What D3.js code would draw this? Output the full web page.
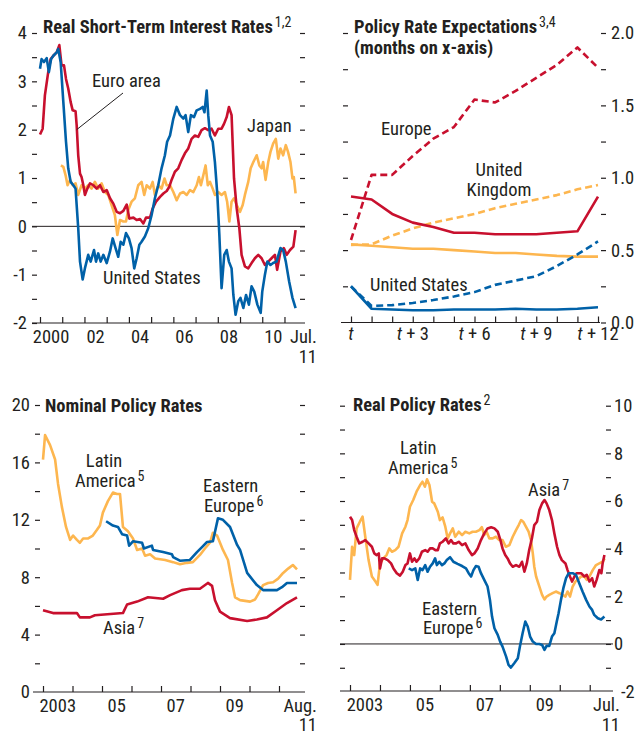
<!DOCTYPE html>
<html>
<head>
<meta charset="utf-8">
<script src="https://cdn.jsdelivr.net/npm/d3@7"></script>
<style>
  body { margin: 0; background: #fff; }
  svg text { font-family: Roboto, 'Open Sans', sans-serif; font-stretch: condensed; fill: #231f20; }
</style>
</head>
<body>
<div id="chart"></div>
<script>
const w = 638;
const h = 732;

const red = '#c8102e';
const blue = '#0061a8';
const yellow = '#fdb64f';
const ink = '#231f20';
const fs = 18.5;

// ---- panel 1: real short-term interest rates, [year, percent]
const euroReal = [[2000.00,1.90],[2000.12,2.02],[2000.22,2.71],[2000.37,3.19],[2000.48,3.46],[2000.60,3.53],[2000.75,3.60],[2000.87,3.75],[2000.97,3.33],[2001.08,3.33],[2001.17,3.05],[2001.27,2.85],[2001.38,2.57],[2001.47,2.40],[2001.60,2.38],[2001.65,2.09],[2001.72,1.47],[2001.80,1.09],[2001.87,1.02],[2001.95,0.85],[2002.02,0.65],[2002.13,0.78],[2002.25,0.89],[2002.40,0.85],[2002.55,0.78],[2002.70,0.85],[2002.85,0.71],[2003.00,0.75],[2003.15,0.58],[2003.30,0.47],[2003.45,0.30],[2003.60,0.27],[2003.75,0.32],[2003.90,0.45],[2004.02,0.16],[2004.20,0.18],[2004.35,0.13],[2004.50,0.15],[2004.65,0.06],[2004.77,0.18],[2004.95,0.18],[2005.07,0.37],[2005.22,0.51],[2005.40,0.61],[2005.55,0.68],[2005.70,0.73],[2005.82,0.82],[2005.92,0.96],[2006.07,1.13],[2006.22,1.20],[2006.37,1.37],[2006.52,1.51],[2006.67,1.61],[2006.82,1.81],[2006.97,1.88],[2007.12,1.85],[2007.27,1.99],[2007.42,2.03],[2007.57,1.99],[2007.72,2.02],[2007.87,1.88],[2008.02,2.02],[2008.17,2.02],[2008.28,2.12],[2008.40,2.26],[2008.50,2.47],[2008.62,2.30],[2008.73,0.99],[2008.85,0.37],[2008.97,-0.04],[2009.07,-0.59],[2009.22,-0.83],[2009.37,-0.87],[2009.52,-0.76],[2009.67,-0.66],[2009.82,-0.59],[2009.97,-0.66],[2010.12,-0.80],[2010.27,-0.73],[2010.42,-0.66],[2010.57,-0.59],[2010.67,-0.90],[2010.82,-0.52],[2010.97,-0.45],[2011.10,-0.59],[2011.25,-0.49],[2011.40,-0.42],[2011.50,-0.08]];
const usReal = [[2000.00,3.26],[2000.07,3.46],[2000.18,3.40],[2000.30,3.48],[2000.40,3.19],[2000.50,3.46],[2000.60,3.53],[2000.75,3.60],[2000.82,3.67],[2000.93,3.40],[2001.05,2.57],[2001.17,1.75],[2001.27,1.20],[2001.38,0.92],[2001.50,0.85],[2001.60,0.78],[2001.72,-0.04],[2001.80,-0.73],[2001.92,-1.10],[2002.02,-0.87],[2002.17,-0.59],[2002.28,-0.73],[2002.43,-0.49],[2002.52,-0.73],[2002.62,-0.56],[2002.73,-0.73],[2002.85,-0.59],[2003.00,-0.76],[2003.15,-0.52],[2003.27,-0.25],[2003.40,-0.45],[2003.52,-0.63],[2003.63,-0.32],[2003.75,-0.38],[2003.87,-0.14],[2004.00,-0.25],[2004.12,-0.45],[2004.24,-0.87],[2004.35,-0.66],[2004.47,-0.38],[2004.57,-0.32],[2004.72,-0.21],[2004.87,-0.04],[2005.02,0.23],[2005.17,0.58],[2005.32,0.85],[2005.47,1.20],[2005.62,1.47],[2005.72,1.75],[2005.85,1.88],[2006.00,2.23],[2006.15,2.47],[2006.30,2.30],[2006.45,2.23],[2006.55,2.30],[2006.67,1.95],[2006.79,2.30],[2006.93,2.26],[2007.05,2.40],[2007.20,2.43],[2007.32,2.47],[2007.40,2.36],[2007.50,2.81],[2007.57,2.30],[2007.65,1.88],[2007.77,1.75],[2007.87,1.33],[2007.98,0.65],[2008.07,-0.18],[2008.17,-1.28],[2008.29,-0.59],[2008.40,-0.49],[2008.50,-0.73],[2008.62,-0.87],[2008.70,-1.42],[2008.80,-1.83],[2008.92,-1.55],[2009.02,-1.48],[2009.15,-1.69],[2009.27,-1.42],[2009.40,-1.62],[2009.52,-1.24],[2009.64,-1.35],[2009.78,-1.62],[2009.93,-1.79],[2010.00,-1.35],[2010.12,-1.00],[2010.23,-0.73],[2010.37,-0.80],[2010.49,-0.76],[2010.64,-0.73],[2010.75,-0.56],[2010.82,-0.45],[2010.94,-0.49],[2011.06,-0.73],[2011.21,-1.14],[2011.36,-1.48],[2011.50,-1.69]];
const japanReal = [[2000.94,1.26],[2001.05,1.23],[2001.15,1.06],[2001.24,0.85],[2001.35,0.96],[2001.47,0.85],[2001.60,0.89],[2001.72,0.65],[2001.87,0.85],[2002.02,0.78],[2002.17,0.85],[2002.32,0.78],[2002.47,0.92],[2002.62,0.78],[2002.77,0.89],[2002.92,0.71],[2003.07,0.65],[2003.22,0.44],[2003.37,0.23],[2003.48,-0.18],[2003.60,0.13],[2003.75,0.10],[2003.87,0.10],[2003.97,0.34],[2004.12,0.51],[2004.27,0.58],[2004.42,0.85],[2004.57,0.92],[2004.69,0.65],[2004.80,0.85],[2004.95,0.78],[2005.07,0.92],[2005.17,0.65],[2005.32,0.85],[2005.47,0.78],[2005.60,0.99],[2005.70,0.85],[2005.85,0.85],[2006.00,0.71],[2006.15,0.54],[2006.30,0.68],[2006.45,0.71],[2006.60,0.65],[2006.75,0.75],[2006.90,0.71],[2007.05,0.85],[2007.15,1.02],[2007.24,0.85],[2007.35,1.06],[2007.45,1.26],[2007.55,0.85],[2007.65,0.92],[2007.77,0.78],[2007.87,0.65],[2008.02,0.71],[2008.17,0.65],[2008.32,0.71],[2008.42,0.51],[2008.52,0.10],[2008.62,0.51],[2008.73,0.58],[2008.85,0.44],[2009.00,0.30],[2009.12,0.44],[2009.22,0.65],[2009.37,0.92],[2009.48,1.20],[2009.60,1.33],[2009.75,1.47],[2009.87,1.26],[2009.97,1.20],[2010.04,1.33],[2010.15,0.96],[2010.27,1.33],[2010.37,1.54],[2010.49,1.71],[2010.61,1.81],[2010.72,1.40],[2010.82,1.61],[2010.94,1.47],[2011.06,1.68],[2011.16,1.54],[2011.27,1.33],[2011.36,0.99],[2011.42,1.02],[2011.50,0.68]];
const p1Ticks = d3.range(2000, 2012);
const p1Labels = [[2000, '2000'], [2002, '02'], [2004, '04'], [2006, '06'], [2008, '08'], [2010, '10']];

// ---- panel 2: policy rate expectations, months ahead
const months = [0, 1, 2, 3, 4, 5, 6, 7, 8, 9, 10, 11, 12];
const europeNow = [0.87, 0.85, 0.75, 0.69, 0.66, 0.62, 0.62, 0.61, 0.61, 0.61, 0.62, 0.63, 0.87];
const europeFwd = [0.57, 1.02, 1.02, 1.15, 1.27, 1.35, 1.54, 1.52, 1.60, 1.69, 1.78, 1.90, 1.76];
const ukNow = [0.54, 0.53, 0.52, 0.51, 0.51, 0.50, 0.49, 0.48, 0.48, 0.47, 0.46, 0.455, 0.455];
const ukFwd = [0.535, 0.54, 0.60, 0.65, 0.69, 0.72, 0.75, 0.79, 0.82, 0.85, 0.88, 0.92, 0.95];
const usNow = [0.25, 0.095, 0.09, 0.085, 0.085, 0.09, 0.09, 0.09, 0.095, 0.09, 0.09, 0.095, 0.105];
const usFwd = [0.25, 0.115, 0.12, 0.135, 0.155, 0.18, 0.21, 0.26, 0.29, 0.32, 0.39, 0.47, 0.56];
const p2Labels = [[0, ''], [3, '3'], [6, '6'], [9, '9'], [12, '12']];

// ---- panel 3: nominal policy rates
const latinNominal = [[2003.00,16.2],[2003.07,17.9],[2003.24,17.2],[2003.41,16.2],[2003.51,14.5],[2003.64,12.9],[2003.78,11.5],[2003.92,10.6],[2004.02,10.9],[2004.15,10.6],[2004.25,10.4],[2004.36,10.7],[2004.53,10.7],[2004.69,10.9],[2004.83,11.3],[2004.93,11.6],[2005.03,12.5],[2005.20,13.3],[2005.37,13.9],[2005.51,13.8],[2005.61,13.8],[2005.71,11.5],[2005.88,11.2],[2006.05,10.7],[2006.19,9.9],[2006.36,10.0],[2006.46,9.5],[2006.63,9.6],[2006.80,9.3],[2007.14,9.2],[2007.41,9.05],[2007.64,8.9],[2007.88,9.0],[2008.08,9.05],[2008.32,9.55],[2008.49,10.0],[2008.66,10.4],[2008.76,11.1],[2008.90,10.9],[2009.10,9.9],[2009.27,9.2],[2009.41,7.6],[2009.51,6.6],[2009.68,6.4],[2009.85,6.35],[2010.02,6.3],[2010.19,6.45],[2010.29,6.8],[2010.46,7.45],[2010.63,7.6],[2010.80,7.65],[2010.97,7.9],[2011.14,8.3],[2011.31,8.6],[2011.47,8.85],[2011.61,8.55]];
const easternNominal = [[2005.14,11.9],[2005.37,11.6],[2005.54,11.5],[2005.68,11.0],[2005.85,10.9],[2005.92,10.2],[2006.05,10.5],[2006.36,10.4],[2006.42,10.0],[2006.69,10.2],[2006.73,9.9],[2007.07,9.75],[2007.37,9.6],[2007.41,9.4],[2007.64,9.15],[2007.98,9.2],[2008.22,9.75],[2008.39,10.1],[2008.56,10.45],[2008.76,10.5],[2008.93,12.1],[2009.10,12.0],[2009.34,11.5],[2009.58,10.25],[2009.68,9.9],[2009.92,8.3],[2010.25,7.45],[2010.46,7.1],[2010.93,7.1],[2011.10,7.3],[2011.27,7.6],[2011.61,7.6]];
const asiaNominal = [[2003.00,5.7],[2003.34,5.5],[2004.15,5.5],[2004.25,5.2],[2004.59,5.2],[2004.76,5.35],[2005.71,5.5],[2005.85,6.1],[2006.19,6.3],[2006.56,6.6],[2007.07,6.5],[2007.31,6.75],[2007.71,7.1],[2007.98,7.2],[2008.32,7.2],[2008.59,7.6],[2008.73,7.4],[2008.83,6.4],[2009.00,5.6],[2009.34,5.15],[2009.92,4.95],[2010.25,5.05],[2010.59,5.2],[2010.93,5.7],[2011.27,6.2],[2011.61,6.6]];

// ---- panel 4: real policy rates
const latinReal = [[2003.00,2.69],[2003.07,4.08],[2003.14,3.73],[2003.22,4.85],[2003.33,5.13],[2003.42,5.34],[2003.51,4.50],[2003.62,3.52],[2003.73,2.83],[2003.85,2.62],[2003.92,2.48],[2004.00,3.38],[2004.11,3.59],[2004.22,3.73],[2004.31,4.01],[2004.40,3.87],[2004.51,3.94],[2004.62,4.08],[2004.74,4.64],[2004.85,4.92],[2004.92,5.20],[2005.00,5.76],[2005.11,6.04],[2005.22,6.39],[2005.34,6.67],[2005.42,6.81],[2005.50,6.60],[2005.57,6.91],[2005.65,6.67],[2005.74,5.97],[2005.81,5.90],[2005.93,5.55],[2006.00,5.20],[2006.09,5.31],[2006.18,4.92],[2006.26,4.43],[2006.34,4.64],[2006.43,4.85],[2006.51,4.50],[2006.63,4.71],[2006.74,4.57],[2006.85,4.71],[2006.98,4.64],[2007.09,4.71],[2007.20,4.71],[2007.32,4.78],[2007.40,4.90],[2007.48,4.57],[2007.56,4.71],[2007.65,4.43],[2007.76,4.43],[2007.87,4.50],[2007.98,4.36],[2008.09,4.36],[2008.20,4.08],[2008.32,4.15],[2008.43,4.50],[2008.54,4.78],[2008.63,4.99],[2008.71,5.20],[2008.78,5.13],[2008.87,4.92],[2008.96,4.71],[2009.04,4.36],[2009.10,3.80],[2009.15,3.24],[2009.21,2.83],[2009.32,2.41],[2009.41,2.06],[2009.49,1.87],[2009.56,1.99],[2009.65,2.06],[2009.76,2.13],[2009.87,2.20],[2009.99,2.13],[2010.10,2.06],[2010.19,1.99],[2010.26,2.20],[2010.34,1.99],[2010.43,2.41],[2010.52,2.62],[2010.60,2.69],[2010.71,2.83],[2010.82,2.83],[2010.90,2.69],[2010.99,2.83],[2011.10,3.10],[2011.21,3.31],[2011.32,3.38],[2011.43,3.45],[2011.50,3.59]];
const asiaReal = [[2003.00,5.34],[2003.07,5.20],[2003.14,4.78],[2003.22,4.50],[2003.31,4.22],[2003.42,4.29],[2003.51,4.36],[2003.62,4.22],[2003.73,4.08],[2003.81,3.80],[2003.89,3.73],[2003.96,3.80],[2004.00,3.17],[2004.07,3.59],[2004.15,3.59],[2004.26,3.52],[2004.37,3.38],[2004.45,3.17],[2004.56,2.97],[2004.67,2.87],[2004.76,3.03],[2004.85,3.31],[2004.92,3.38],[2005.00,3.80],[2005.07,3.45],[2005.15,3.59],[2005.22,3.45],[2005.31,3.59],[2005.40,3.87],[2005.51,3.94],[2005.59,3.87],[2005.67,4.01],[2005.76,4.01],[2005.85,3.94],[2005.93,3.94],[2006.00,4.22],[2006.09,4.29],[2006.20,4.43],[2006.29,4.22],[2006.37,4.36],[2006.45,4.22],[2006.54,4.22],[2006.63,4.29],[2006.74,4.15],[2006.85,4.22],[2006.96,3.94],[2007.07,3.73],[2007.15,3.80],[2007.26,4.01],[2007.37,4.36],[2007.48,4.64],[2007.59,4.85],[2007.71,4.90],[2007.82,4.85],[2007.93,4.71],[2008.02,4.36],[2008.09,4.01],[2008.18,3.73],[2008.26,3.59],[2008.34,3.38],[2008.43,3.24],[2008.54,3.31],[2008.65,3.24],[2008.74,3.45],[2008.82,3.03],[2008.90,3.38],[2008.98,3.94],[2009.07,4.43],[2009.15,4.99],[2009.24,5.13],[2009.32,5.62],[2009.41,5.90],[2009.49,6.04],[2009.56,5.90],[2009.65,5.62],[2009.74,5.20],[2009.82,4.64],[2009.91,4.08],[2009.99,3.73],[2010.07,3.52],[2010.19,3.38],[2010.26,3.10],[2010.34,2.83],[2010.41,2.62],[2010.49,2.83],[2010.56,2.97],[2010.71,2.97],[2010.82,2.83],[2010.90,2.90],[2010.99,2.62],[2011.08,2.76],[2011.15,2.41],[2011.23,2.69],[2011.32,3.10],[2011.39,2.97],[2011.43,3.38],[2011.49,3.73]];
const easternReal = [[2004.96,3.17],[2005.07,3.10],[2005.18,3.17],[2005.26,2.69],[2005.34,3.17],[2005.42,3.10],[2005.51,3.31],[2005.59,3.03],[2005.67,3.24],[2005.76,3.38],[2005.84,3.59],[2005.90,3.31],[2005.98,3.45],[2006.07,3.31],[2006.15,3.38],[2006.23,3.52],[2006.34,3.64],[2006.45,3.45],[2006.59,3.36],[2006.74,3.27],[2006.87,3.17],[2006.96,2.97],[2007.04,2.83],[2007.12,3.10],[2007.20,3.27],[2007.29,3.24],[2007.37,2.97],[2007.48,2.69],[2007.59,2.41],[2007.67,1.85],[2007.74,1.15],[2007.82,0.66],[2007.93,0.38],[2008.01,0.10],[2008.09,-0.11],[2008.21,-0.53],[2008.29,-0.88],[2008.37,-0.99],[2008.48,-0.81],[2008.60,-0.60],[2008.67,-0.11],[2008.76,0.45],[2008.85,0.94],[2008.93,0.73],[2009.01,0.31],[2009.10,0.10],[2009.21,0.00],[2009.32,0.00],[2009.41,-0.04],[2009.49,-0.25],[2009.56,-0.08],[2009.65,-0.08],[2009.74,0.31],[2009.82,0.45],[2009.90,0.94],[2009.96,1.29],[2010.04,1.85],[2010.12,2.34],[2010.21,2.76],[2010.30,2.97],[2010.43,2.97],[2010.54,2.90],[2010.65,2.55],[2010.76,2.20],[2010.88,1.85],[2010.99,1.57],[2011.08,1.43],[2011.15,1.22],[2011.27,1.08],[2011.38,1.03],[2011.49,1.15]];
const p34Ticks = d3.range(2003, 2012);
const p34Labels = [[2003, '2003'], [2005, '05'], [2007, '07'], [2009, '09']];

const svg = d3.select('#chart')
  .append('svg')
  .attr('width', w)
  .attr('height', h);

// helpers
function yAxis(scale, x0, side, values, fmt, pad) {
  const axis = (side === 'left' ? d3.axisLeft(scale) : d3.axisRight(scale))
    .tickValues(values)
    .tickSize(5)
    .tickPadding(pad)
    .tickFormat(fmt);
  svg.append('g')
    .attr('transform', 'translate(' + x0 + ',0)')
    .call(axis)
    .call(g => g.select('.domain').remove())
    .call(g => g.selectAll('line').attr('stroke', ink).attr('stroke-width', 1.2))
    .call(g => g.selectAll('text').style('font-size', fs + 'px'));
}

function xAxis(scale, y0, x1, x2, ticks) {
  svg.append('line')
    .attr('x1', x1).attr('x2', x2)
    .attr('y1', y0).attr('y2', y0)
    .attr('stroke', ink)
    .attr('stroke-width', 1.2);
  svg.append('g')
    .attr('transform', 'translate(0,' + y0 + ')')
    .call(d3.axisBottom(scale).tickValues(ticks).tickSize(-6).tickFormat(''))
    .call(g => g.select('.domain').remove())
    .call(g => g.selectAll('line').attr('stroke', ink).attr('stroke-width', 1.2));
}

function yearLabels(scale, y0, labels, endA, endB, endX) {
  svg.selectAll(null)
    .data(labels)
    .enter()
    .append('text')
    .attr('x', d => scale(d[0] + 0.5))
    .attr('y', y0 + 20)
    .attr('text-anchor', 'middle')
    .style('font-size', fs + 'px')
    .text(d => d[1]);
  svg.append('text')
    .attr('x', endX).attr('y', y0 + 20)
    .attr('text-anchor', 'end')
    .style('font-size', fs + 'px')
    .text(endA);
  svg.append('text')
    .attr('x', endX).attr('y', Math.min(y0 + 40, h - 1))
    .attr('text-anchor', 'end')
    .style('font-size', fs + 'px')
    .text(endB);
}

function series(data, x, y, color, dash) {
  svg.append('path')
    .datum(data)
    .attr('fill', 'none')
    .attr('stroke', color)
    .attr('stroke-width', 2.6)
    .attr('stroke-linejoin', 'round')
    .attr('stroke-dasharray', dash || null)
    .attr('d', d3.line().x(d => x(d[0])).y(d => y(d[1])));
}

function label(x, y, txt, sup, bold) {
  const t = svg.append('text')
    .attr('x', x).attr('y', y)
    .style('font-size', fs + 'px')
    .style('font-weight', bold ? 'bold' : null)
    .text(txt);
  if (sup) {
    t.append('tspan')
      .attr('dx', 2)
      .attr('dy', -6)
      .style('font-size', '14px')
      .style('font-weight', 'normal')
      .text(sup);
  }
  return t;
}

// ---------- panel 1
const x1 = d3.scaleLinear().domain([2000, 2012]).range([40, 306.7]);
const y1 = d3.scaleLinear().domain([-2, 4]).range([323, 33]);

yAxis(y1, 37, 'left', d3.range(-2, 4.01, 0.5), d => Number.isInteger(d) ? String(d) : '', 5);
yAxis(y1, 300, 'right', d3.range(-1.5, 4.01, 0.5), '', 5);
xAxis(x1, 323, 32, 305, p1Ticks);
yearLabels(x1, 323, p1Labels, 'Jul.', '11', 317);

svg.append('line')
  .attr('x1', 32).attr('x2', 305)
  .attr('y1', y1(0)).attr('y2', y1(0))
  .attr('stroke', ink).attr('stroke-width', 1);

series(japanReal, x1, y1, yellow);
series(euroReal, x1, y1, red);
series(usReal, x1, y1, blue);

label(43, 33, 'Real Short-Term Interest Rates', '1,2', true);
label(92, 87, 'Euro area');
svg.append('line')
  .attr('x1', 123).attr('y1', 93)
  .attr('x2', x1(2001.65)).attr('y2', y1(2.0))
  .attr('stroke', ink).attr('stroke-width', 1);
label(247, 132, 'Japan');
label(103, 284, 'United States');

// ---------- panel 2
const x2 = d3.scaleLinear().domain([0, 12]).range([351, 598]);
const y2 = d3.scaleLinear().domain([0, 2]).range([322.5, 33]);

yAxis(y2, 348, 'left', d3.range(0.25, 2.01, 0.25), '', 5);
yAxis(y2, 601, 'right', d3.range(0, 2.01, 0.25), d => (d * 2) % 1 === 0 ? d3.format('.1f')(d) : '', 5);
xAxis(x2, 322.5, 341, 600, months);

svg.selectAll(null)
  .data(p2Labels)
  .enter()
  .append('text')
  .attr('x', d => x2(d[0]))
  .attr('y', 340)
  .attr('text-anchor', 'middle')
  .style('font-size', fs + 'px')
  .each(function (d) {
    const t = d3.select(this);
    t.append('tspan').style('font-style', 'italic').text('t');
    if (d[1]) t.append('tspan').text(' + ' + d[1]);
  });

const zip = vals => months.map((m, i) => [m, vals[i]]);
series(zip(ukNow), x2, y2, yellow);
series(zip(ukFwd), x2, y2, yellow, '7,4');
series(zip(europeNow), x2, y2, red);
series(zip(europeFwd), x2, y2, red, '7,4');
series(zip(usNow), x2, y2, blue);
series(zip(usFwd), x2, y2, blue, '7,4');

label(354, 33, 'Policy Rate Expectations', '3,4', true);
label(354, 54, '(months on x-axis)', null, true);
label(381, 135, 'Europe');
label(499, 176, 'United').attr('text-anchor', 'middle');
label(499, 196, 'Kingdom').attr('text-anchor', 'middle');
label(370, 291, 'United States');

// ---------- panel 3
const x3 = d3.scaleLinear().domain([2003, 2012]).range([43, 308.5]);
const y3 = d3.scaleLinear().domain([0, 20]).range([692, 405]);

yAxis(y3, 40, 'left', d3.range(2, 20.01, 2), d => d % 4 === 0 ? String(d) : '', 5);
yAxis(y3, 300, 'right', d3.range(2, 20.01, 2), '', 5);
xAxis(x3, 692, 33, 305, p34Ticks);
yearLabels(x3, 692, p34Labels, 'Aug.', '11', 317);
svg.append('text')
  .attr('x', 30).attr('y', y3(0))
  .attr('dy', '0.32em')
  .attr('text-anchor', 'end')
  .style('font-size', fs + 'px')
  .text('0');

series(latinNominal, x3, y3, yellow);
series(asiaNominal, x3, y3, red);
series(easternNominal, x3, y3, blue);

label(45, 412, 'Nominal Policy Rates', null, true);
label(104, 467, 'Latin').attr('text-anchor', 'middle');
label(75, 487, 'America', '5');
label(203, 492, 'Eastern');
label(204, 512, 'Europe', '6');
label(103, 634, 'Asia', '7');

// ---------- panel 4
const x4 = d3.scaleLinear().domain([2003, 2012]).range([350, 619.7]);
const y4 = d3.scaleLinear().domain([-2, 10]).range([691.6, 405.7]);

yAxis(y4, 345, 'left', d3.range(-1, 10.01, 1), '', 5);
yAxis(y4, 606, 'right', d3.range(-1, 10.01, 1), d => d % 2 === 0 ? String(d) : '', 3);
xAxis(x4, 691, 340, 613, p34Ticks);
yearLabels(x4, 691, p34Labels, 'Jul.', '11', 620);
svg.append('text')
  .attr('x', 621).attr('y', y4(-2))
  .attr('dy', '0.32em')
  .style('font-size', fs + 'px')
  .text('-2');

svg.append('line')
  .attr('x1', 340).attr('x2', 613)
  .attr('y1', y4(0)).attr('y2', y4(0))
  .attr('stroke', ink).attr('stroke-width', 1);

series(latinReal, x4, y4, yellow);
series(asiaReal, x4, y4, red);
series(easternReal, x4, y4, blue);

label(353, 411, 'Real Policy Rates', '2', true);
label(400, 454, 'Latin');
label(388, 474, 'America', '5');
label(528, 496, 'Asia', '7');
label(422, 615, 'Eastern');
label(423, 634, 'Europe', '6');
</script>
</body>
</html>
